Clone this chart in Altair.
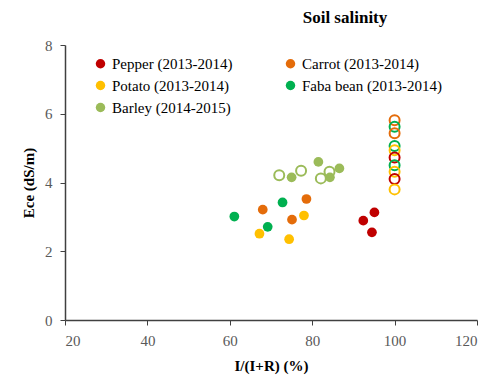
import altair as alt
import pandas as pd

crops = ["Pepper (2013-2014)", "Potato (2013-2014)", "Barley (2014-2015)",
         "Carrot (2013-2014)", "Faba bean (2013-2014)"]
colors = ["#C00000", "#FFC000", "#9BBB59", "#E46C0A", "#00B050"]

# filled markers
pepper_x = [92.4, 95.1, 94.5]
pepper_y = [2.89, 3.13, 2.55]
carrot_x = [68.0, 78.6, 75.1]
carrot_y = [3.21, 3.52, 2.92]
potato_x = [67.2, 78.0, 74.4]
potato_y = [2.51, 3.04, 2.35]
faba_x = [61.1, 72.8, 69.2]
faba_y = [3.01, 3.42, 2.71]
barley_x = [81.5, 75.0, 86.6, 84.3]
barley_y = [4.60, 4.15, 4.41, 4.15]

# open markers
open_crop = ["Carrot (2013-2014)", "Faba bean (2013-2014)", "Carrot (2013-2014)",
             "Faba bean (2013-2014)", "Potato (2013-2014)", "Pepper (2013-2014)",
             "Faba bean (2013-2014)", "Potato (2013-2014)", "Pepper (2013-2014)",
             "Potato (2013-2014)",
             "Barley (2014-2015)", "Barley (2014-2015)", "Barley (2014-2015)",
             "Barley (2014-2015)"]
open_x = [100, 100, 100, 100, 100, 100, 100, 100, 100, 100, 72.0, 77.3, 82.1, 84.2]
open_y = [5.81, 5.62, 5.43, 5.06, 4.94, 4.73, 4.50, 4.31, 4.10, 3.80,
          4.21, 4.34, 4.12, 4.31]

rows = []
for name, xs, ys in [("Pepper (2013-2014)", pepper_x, pepper_y),
                     ("Carrot (2013-2014)", carrot_x, carrot_y),
                     ("Potato (2013-2014)", potato_x, potato_y),
                     ("Faba bean (2013-2014)", faba_x, faba_y),
                     ("Barley (2014-2015)", barley_x, barley_y)]:
    for a, b in zip(xs, ys):
        rows.append({"crop": name, "x": a, "y": b})
filled_df = pd.DataFrame(rows)
open_df = pd.DataFrame({"crop": open_crop, "x": open_x, "y": open_y})

FONT = "Liberation Serif"

xenc = alt.X("x:Q", scale=alt.Scale(domain=[20, 120], nice=False),
             axis=alt.Axis(values=[20, 40, 60, 80, 100, 120], title="I/(I+R) (%)"))
yenc = alt.Y("y:Q", scale=alt.Scale(domain=[0, 8], nice=False),
             axis=alt.Axis(values=[0, 2, 4, 6, 8], title="Ece (dS/m)"))

filled = alt.Chart(filled_df).mark_circle(size=95, opacity=1).encode(
    x=xenc, y=yenc,
    color=alt.Color("crop:N", scale=alt.Scale(domain=crops, range=colors),
                    legend=alt.Legend(title=None, orient="none", legendX=28, legendY=11,
                                      columns=2, columnPadding=50, rowPadding=6,
                                      symbolType="circle", symbolSize=90,
                                      labelFont=FONT, labelFontSize=15,
                                      labelColor="#000000", labelLimit=300)),
)

opened = alt.Chart(open_df).mark_point(size=100, strokeWidth=2, opacity=1, filled=False).encode(
    x=xenc, y=yenc,
    stroke=alt.Stroke("crop:N", scale=alt.Scale(domain=crops, range=colors), legend=None),
)

chart = alt.layer(filled, opened).resolve_scale(stroke="independent").properties(
    width=412, height=275,
    autosize=alt.AutoSizeParams(type="none"),
    padding={"left": 65, "top": 45, "right": 14, "bottom": 63},
    title=alt.TitleParams("Soil salinity", font=FONT, fontSize=17, fontWeight="bold",
                          anchor="middle", dx=74, offset=11, color="#000000"),
).configure_view(stroke=None).configure_axis(
    grid=False, domainColor="#404040", tickColor="#404040", domainWidth=1.5,
    tickSize=5, labelFont=FONT, labelFontSize=15, labelColor="#595959",
    titleFont=FONT, titleFontSize=15, titleFontWeight="bold", titleColor="#000000",
    labelPadding=8,
).configure_axisY(titlePadding=8).configure_axisX(titlePadding=10)

chart.save("out.html", embed_options={"renderer": "svg", "actions": False})
